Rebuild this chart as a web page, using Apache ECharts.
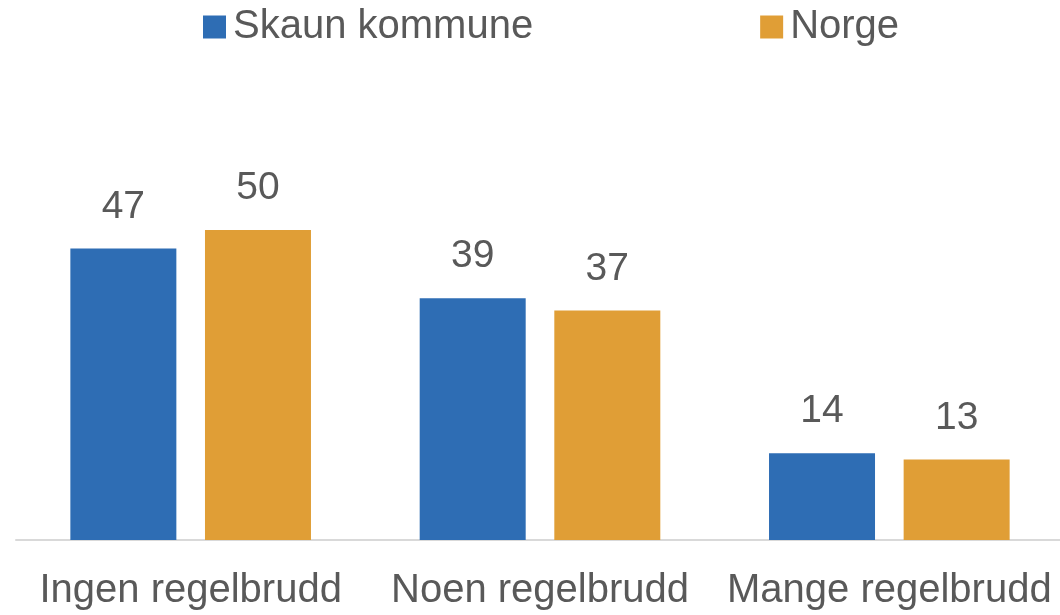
<!DOCTYPE html>
<html>
<head>
<meta charset="utf-8">
<script src="https://cdn.jsdelivr.net/npm/echarts@6/dist/echarts.min.js"></script>
<style>
    html, body { margin: 0; padding: 0; background: #fff; }
    #chart { width: 1060px; height: 615px; }
</style>
</head>
<body>
<div id="chart"></div>
<script>
// kategorier og verdier (prosent)
const categories = ['Ingen regelbrudd', 'Noen regelbrudd', 'Mange regelbrudd'];
const seriesNames = ['Skaun kommune', 'Norge'];
const skaunValues = [47, 39, 14];
const norgeValues = [50, 37, 13];

const colors = ['#2e6db4', '#e09e36'];
const textColor = '#595959';
const font = 'Liberation Sans, Arial, sans-serif';

const chart = echarts.init(document.getElementById('chart'));

const labelStyle = {
    show: true,
    position: 'top',
    distance: 22,
    color: textColor,
    fontSize: 39,
    fontFamily: font
};

const option = {
    animation: false,
    color: colors,
    legend: {
        left: 203,
        top: 7,
        padding: 0,
        itemWidth: 23,
        itemHeight: 23,
        itemGap: 227,
        icon: 'rect',
        textStyle: {
            color: textColor,
            fontSize: 40,
            fontFamily: font,
            padding: [0, 0, 0, 2]
        },
        data: seriesNames
    },
    grid: {
        left: 16,
        right: -4,
        top: 168,
        bottom: 75,
        outerBoundsMode: 'none'
    },
    xAxis: {
        type: 'category',
        data: categories,
        axisTick: { show: false },
        axisLine: {
            lineStyle: { color: '#d9d9d9', width: 2 }
        },
        axisLabel: {
            color: textColor,
            fontSize: 40,
            fontFamily: font,
            margin: 31,
            interval: 0
        }
    },
    yAxis: {
        type: 'value',
        min: 0,
        max: 60,
        show: false,
        splitLine: { show: false }
    },
    series: [
        {
            name: seriesNames[0],
            type: 'bar',
            data: skaunValues,
            barWidth: 106,
            barGap: '27%',
            label: labelStyle
        },
        {
            name: seriesNames[1],
            type: 'bar',
            data: norgeValues,
            barWidth: 106,
            label: labelStyle
        }
    ]
};

chart.setOption(option);
</script>
</body>
</html>
